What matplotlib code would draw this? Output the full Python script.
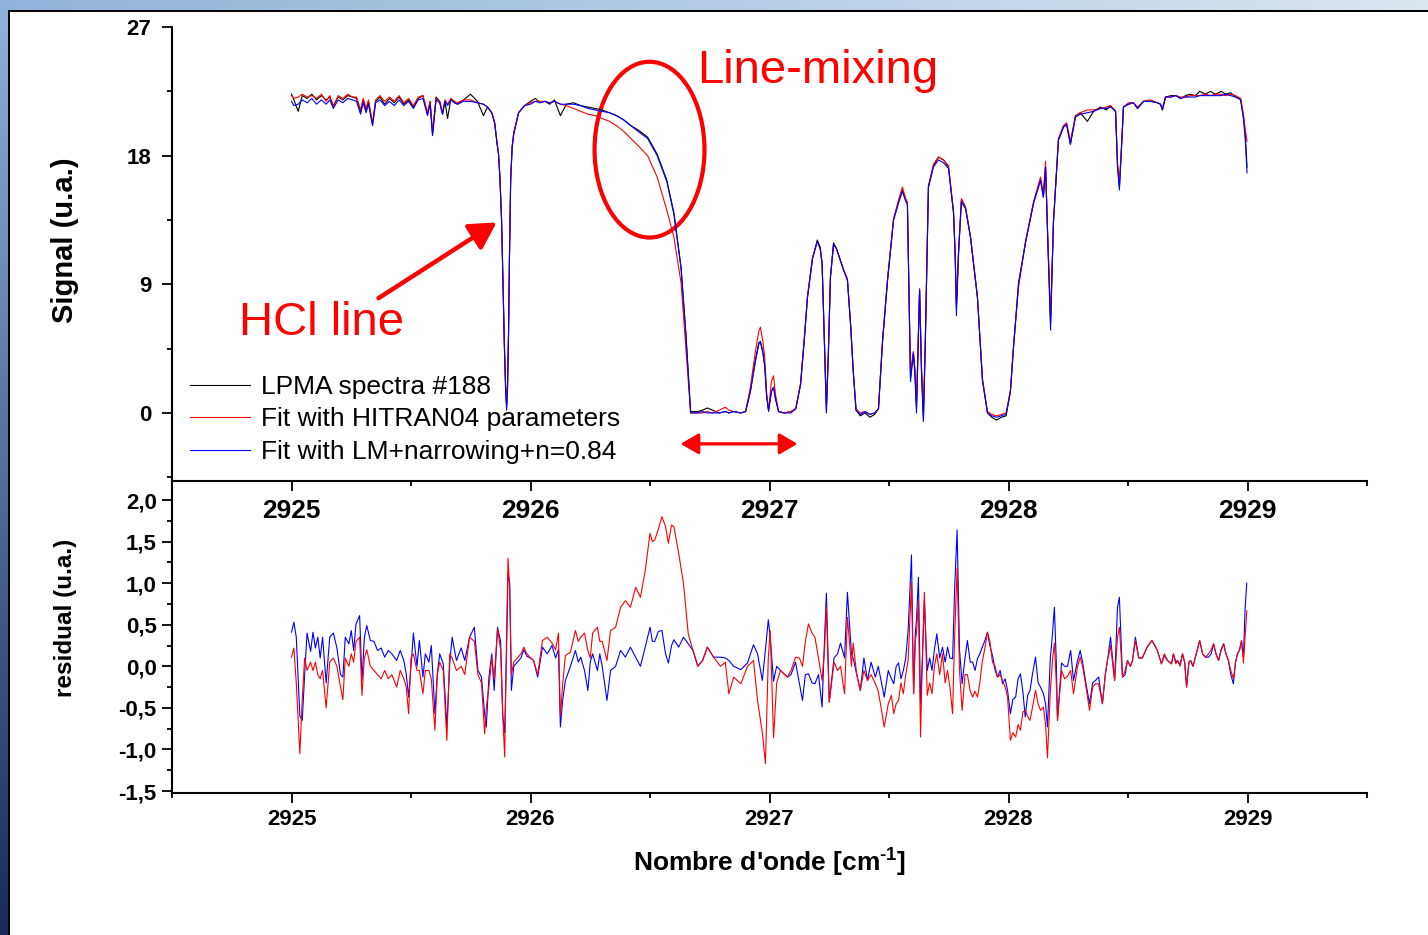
import numpy as np
import matplotlib
matplotlib.use('Agg')
import matplotlib.pyplot as plt
from matplotlib.patches import Ellipse
from matplotlib.ticker import MultipleLocator

plt.rcParams['font.family'] = ['Liberation Sans', 'DejaVu Sans']
plt.rcParams['mathtext.fontset'] = 'custom'
plt.rcParams['mathtext.bf'] = 'Liberation Sans:bold'
plt.rcParams['mathtext.rm'] = 'Liberation Sans:bold'
plt.rcParams['mathtext.default'] = 'bf'

# ---------------- top panel: spectra ----------------
sig_wn = [
    2925.000, 2925.010, 2925.028, 2925.045, 2925.065, 2925.085, 2925.105, 2925.125, 2925.145, 2925.160,
    2925.175, 2925.195, 2925.215, 2925.235, 2925.255, 2925.272, 2925.289, 2925.300, 2925.312, 2925.322,
    2925.339, 2925.352, 2925.370, 2925.390, 2925.410, 2925.430, 2925.450, 2925.470, 2925.490, 2925.510,
    2925.530, 2925.550, 2925.569, 2925.580, 2925.590, 2925.605, 2925.620, 2925.632, 2925.642, 2925.653,
    2925.667, 2925.682, 2925.695, 2925.720, 2925.749, 2925.778, 2925.803, 2925.820, 2925.838, 2925.850,
    2925.860, 2925.866, 2925.872, 2925.879, 2925.885, 2925.891, 2925.896, 2925.900, 2925.904, 2925.908,
    2925.912, 2925.917, 2925.923, 2925.930, 2925.950, 2925.975, 2926.000, 2926.020, 2926.040, 2926.060,
    2926.080, 2926.100, 2926.125, 2926.150, 2926.180, 2926.210, 2926.240, 2926.270, 2926.300, 2926.330,
    2926.360, 2926.390, 2926.420, 2926.450, 2926.490, 2926.530, 2926.570, 2926.600, 2926.630, 2926.650,
    2926.670, 2926.700, 2926.720, 2926.740, 2926.760, 2926.790, 2926.815, 2926.830, 2926.850, 2926.880,
    2926.900, 2926.920, 2926.940, 2926.955, 2926.962, 2926.972, 2926.980, 2926.988, 2926.996, 2927.008,
    2927.017, 2927.025, 2927.038, 2927.060, 2927.090, 2927.110, 2927.130, 2927.145, 2927.159, 2927.180,
    2927.200, 2927.212, 2927.220, 2927.228, 2927.238, 2927.246, 2927.255, 2927.268, 2927.280, 2927.300,
    2927.310, 2927.326, 2927.340, 2927.350, 2927.362, 2927.380, 2927.400, 2927.420, 2927.440, 2927.456,
    2927.473, 2927.494, 2927.519, 2927.540, 2927.556, 2927.570, 2927.577, 2927.584, 2927.590, 2927.602,
    2927.608, 2927.615, 2927.628, 2927.636, 2927.644, 2927.652, 2927.665, 2927.686, 2927.707, 2927.728,
    2927.749, 2927.770, 2927.777, 2927.782, 2927.791, 2927.803, 2927.812, 2927.820, 2927.841, 2927.870,
    2927.891, 2927.912, 2927.930, 2927.950, 2927.970, 2927.990, 2928.008, 2928.021, 2928.042, 2928.071,
    2928.105, 2928.134, 2928.146, 2928.155, 2928.163, 2928.176, 2928.188, 2928.209, 2928.230, 2928.243,
    2928.259, 2928.280, 2928.300, 2928.330, 2928.356, 2928.385, 2928.410, 2928.427, 2928.448, 2928.456,
    2928.464, 2928.473, 2928.481, 2928.502, 2928.523, 2928.540, 2928.565, 2928.594, 2928.623, 2928.636,
    2928.644, 2928.657, 2928.680, 2928.700, 2928.720, 2928.741, 2928.760, 2928.782, 2928.800, 2928.824,
    2928.845, 2928.866, 2928.890, 2928.908, 2928.930, 2928.950, 2928.971, 2928.983, 2928.991, 2928.998]

sig_lpma = [
    22.3, 21.9, 21.1, 22.2, 22.0, 22.3, 21.9, 22.2, 21.9, 22.1,
    21.5, 22.1, 21.9, 22.2, 22.1, 22.0, 21.1, 21.9, 21.2, 21.8,
    20.2, 21.8, 22.1, 21.6, 22.0, 21.7, 22.1, 21.6, 21.9, 21.4,
    22.0, 22.2, 20.9, 21.8, 19.5, 22.1, 21.8, 20.9, 21.8, 20.6,
    22.0, 21.7, 21.6, 21.9, 22.3, 21.8, 20.8, 21.4, 21.0, 20.3,
    18.9, 18.2, 16.5, 13.5, 9.0, 4.6, 1.8, 0.5, 2.0, 5.5,
    11.0, 16.3, 18.6, 19.6, 21.0, 21.5, 21.8, 22.0, 21.7, 21.8,
    21.6, 21.9, 20.8, 21.6, 21.7, 21.5, 21.4, 21.3, 21.2, 21.0,
    20.8, 20.5, 20.1, 19.8, 19.3, 18.1, 16.3, 14.0, 10.2, 5.6,
    0.1, 0.1, 0.2, 0.35, 0.2, 0.0, 0.1, 0.0, 0.1, 0.0,
    0.1, 1.5, 3.6, 4.9, 5.0, 4.3, 3.3, 1.2, 0.2, 1.5,
    1.8, 1.0, 0.1, 0.0, 0.1, 0.3, 2.0, 5.0, 8.1, 10.8,
    12.1, 11.6, 10.5, 6.0, 0.2, 4.0, 9.5, 11.9, 11.5, 10.5,
    10.0, 9.3, 6.0, 3.0, 0.2, -0.2, 0.0, -0.3, -0.1, 0.3,
    5.0, 9.3, 13.5, 14.8, 15.6, 14.9, 14.7, 8.0, 2.5, 4.2,
    3.0, 0.4, 8.6, 3.0, -0.4, 5.0, 15.8, 17.3, 17.9, 17.7,
    17.2, 14.0, 11.0, 7.4, 11.2, 14.9, 14.6, 14.4, 12.3, 8.1,
    2.3, 0.0, -0.3, -0.5, -0.3, -0.2, 1.5, 4.6, 9.1, 11.9,
    14.7, 16.3, 15.1, 17.2, 12.8, 6.3, 13.3, 19.1, 20.0, 20.2,
    18.8, 20.7, 21.0, 20.4, 21.1, 21.4, 21.2, 21.5, 21.1, 17.4,
    15.8, 18.6, 21.4, 21.6, 21.7, 21.3, 21.8, 21.8, 21.7, 21.6,
    21.2, 22.1, 22.2, 22.2, 22.0, 22.2, 22.3, 22.2, 22.5, 22.3,
    22.5, 22.3, 22.5, 22.3, 22.4, 22.1, 22.0, 20.7, 19.5, 17.2]

sig_hitran = [
    22.2, 22.0, 22.1, 22.3, 22.1, 22.2, 22.0, 22.3, 21.8, 22.2,
    21.4, 22.2, 22.0, 22.3, 22.1, 22.1, 21.2, 22.0, 21.3, 21.9,
    20.3, 21.9, 22.2, 21.8, 22.1, 21.8, 22.2, 21.7, 22.0, 21.5,
    22.1, 22.2, 21.0, 21.8, 19.6, 22.0, 21.8, 21.0, 21.9, 21.6,
    22.0, 21.8, 21.7, 21.9, 21.9, 21.7, 21.6, 21.4, 21.0, 20.3,
    18.9, 18.2, 16.5, 13.5, 9.0, 4.6, 1.8, 0.6, 2.1, 5.6,
    11.0, 16.3, 18.6, 19.6, 21.0, 21.5, 21.7, 21.8, 21.8, 21.8,
    21.7, 21.8, 21.6, 21.5, 21.3, 21.1, 20.9, 20.8, 20.6, 20.4,
    20.1, 19.7, 19.2, 18.7, 18.0, 16.5, 14.2, 12.3, 9.1, 4.6,
    0.0, 0.0, 0.0, 0.1, 0.0, 0.2, 0.4, 0.2, 0.1, 0.0,
    0.1, 1.8, 4.2, 5.7, 6.0, 5.0, 3.9, 1.4, 0.2, 2.2,
    2.6, 1.3, 0.1, 0.0, 0.1, 0.3, 2.1, 5.1, 8.2, 10.9,
    12.0, 11.5, 10.4, 6.0, 0.5, 4.0, 9.5, 11.8, 11.5, 10.5,
    10.0, 9.4, 6.1, 3.1, 0.3, 0.0, 0.1, -0.1, 0.0, 0.3,
    5.1, 9.4, 13.6, 14.9, 15.8, 15.0, 14.7, 8.0, 2.8, 4.3,
    3.2, 0.7, 8.7, 3.2, 0.0, 5.2, 15.9, 17.4, 17.9, 17.7,
    17.3, 14.1, 11.0, 7.6, 11.3, 15.0, 14.7, 14.4, 12.3, 8.1,
    2.4, 0.1, -0.1, -0.2, -0.1, 0.0, 1.6, 4.7, 8.8, 12.0,
    14.8, 16.5, 15.3, 17.6, 13.0, 6.6, 13.4, 19.2, 20.1, 20.3,
    19.0, 20.8, 21.0, 21.2, 21.2, 21.3, 21.4, 21.5, 21.1, 17.6,
    16.0, 18.7, 21.4, 21.7, 21.7, 21.4, 21.8, 21.9, 21.7, 21.6,
    21.3, 22.1, 22.1, 22.2, 22.1, 22.1, 22.2, 22.2, 22.2, 22.3,
    22.2, 22.3, 22.3, 22.2, 22.3, 22.2, 22.0, 20.9, 19.8, 19.0]

sig_lm = [
    21.8, 21.5, 21.6, 21.9, 21.7, 22.0, 21.6, 21.9, 21.6, 21.9,
    21.3, 21.9, 21.7, 22.0, 21.9, 21.8, 20.9, 21.7, 21.0, 21.6,
    20.1, 21.7, 21.9, 21.5, 21.8, 21.5, 21.9, 21.5, 21.8, 21.3,
    21.9, 22.0, 20.8, 21.6, 19.4, 21.9, 21.7, 20.9, 21.8, 21.5,
    21.9, 21.7, 21.6, 21.8, 21.8, 21.7, 21.6, 21.4, 21.0, 20.3,
    18.8, 18.1, 16.4, 13.4, 8.8, 4.4, 1.5, 0.2, 1.8, 5.3,
    10.8, 16.2, 18.5, 19.5, 21.0, 21.5, 21.6, 21.8, 21.7, 21.8,
    21.7, 21.8, 21.6, 21.6, 21.6, 21.5, 21.3, 21.2, 21.1, 21.0,
    20.8, 20.5, 20.1, 19.7, 19.2, 18.0, 16.2, 13.9, 10.1, 5.5,
    0.0, 0.0, 0.1, 0.0, 0.0, 0.0, 0.1, 0.0, 0.1, 0.0,
    0.1, 1.5, 3.5, 4.8, 5.0, 4.2, 3.3, 1.2, 0.1, 1.5,
    1.8, 1.0, 0.1, 0.0, 0.0, 0.3, 2.0, 5.0, 8.1, 10.8,
    12.0, 11.5, 10.5, 6.0, 0.0, 4.0, 9.5, 11.8, 11.5, 10.5,
    10.0, 9.3, 6.0, 3.0, 0.2, -0.1, 0.1, -0.1, 0.0, 0.3,
    5.0, 9.3, 13.5, 14.7, 15.5, 14.8, 14.6, 8.0, 2.2, 4.2,
    2.8, 0.0, 8.6, 2.8, -0.6, 5.0, 15.8, 17.2, 17.7, 17.5,
    17.1, 14.0, 11.0, 6.8, 11.2, 14.8, 14.5, 14.3, 12.3, 8.1,
    2.3, 0.0, -0.2, -0.3, -0.2, -0.1, 1.5, 4.6, 9.0, 11.9,
    14.7, 16.3, 15.1, 17.2, 12.8, 5.8, 13.3, 19.1, 20.0, 20.2,
    18.8, 20.7, 20.9, 21.0, 21.1, 21.3, 21.3, 21.4, 21.1, 17.2,
    15.6, 18.6, 21.4, 21.6, 21.7, 21.3, 21.8, 21.8, 21.7, 21.6,
    21.2, 22.1, 22.1, 22.2, 22.0, 22.1, 22.1, 22.1, 22.2, 22.2,
    22.2, 22.2, 22.2, 22.3, 22.2, 22.1, 21.9, 20.6, 19.0, 16.8]

# ---------------- bottom panel: residuals ----------------
res_wn = [
    2925.000, 2925.010, 2925.020, 2925.035, 2925.045, 2925.055, 2925.065, 2925.080, 2925.090, 2925.100,
    2925.110, 2925.120, 2925.130, 2925.145, 2925.160, 2925.175, 2925.190, 2925.205, 2925.215, 2925.225,
    2925.240, 2925.250, 2925.260, 2925.270, 2925.285, 2925.295, 2925.305, 2925.315, 2925.330, 2925.345,
    2925.360, 2925.375, 2925.390, 2925.405, 2925.420, 2925.440, 2925.455, 2925.470, 2925.480, 2925.490,
    2925.500, 2925.510, 2925.525, 2925.535, 2925.550, 2925.560, 2925.575, 2925.585, 2925.600, 2925.610,
    2925.620, 2925.635, 2925.650, 2925.662, 2925.672, 2925.690, 2925.710, 2925.725, 2925.745, 2925.765,
    2925.780, 2925.795, 2925.808, 2925.815, 2925.826, 2925.838, 2925.848, 2925.862, 2925.875, 2925.884,
    2925.892, 2925.900, 2925.906, 2925.913, 2925.920, 2925.930, 2925.945, 2925.960, 2925.972, 2925.985,
    2926.000, 2926.013, 2926.030, 2926.050, 2926.070, 2926.090, 2926.105, 2926.117, 2926.125, 2926.135,
    2926.146, 2926.167, 2926.188, 2926.200, 2926.210, 2926.226, 2926.240, 2926.250, 2926.260, 2926.280,
    2926.290, 2926.300, 2926.320, 2926.335, 2926.356, 2926.377, 2926.397, 2926.418, 2926.440, 2926.460,
    2926.480, 2926.500, 2926.510, 2926.520, 2926.535, 2926.550, 2926.565, 2926.577, 2926.590, 2926.600,
    2926.620, 2926.640, 2926.660, 2926.680, 2926.700, 2926.720, 2926.740, 2926.766, 2926.795, 2926.815,
    2926.830, 2926.850, 2926.880, 2926.908, 2926.933, 2926.950, 2926.970, 2926.983, 2926.995, 2927.003,
    2927.017, 2927.030, 2927.046, 2927.075, 2927.090, 2927.109, 2927.125, 2927.138, 2927.150, 2927.163,
    2927.178, 2927.190, 2927.205, 2927.220, 2927.230, 2927.238, 2927.250, 2927.270, 2927.285, 2927.297,
    2927.314, 2927.326, 2927.343, 2927.350, 2927.365, 2927.380, 2927.395, 2927.410, 2927.425, 2927.443,
    2927.455, 2927.464, 2927.480, 2927.497, 2927.510, 2927.520, 2927.530, 2927.540, 2927.550, 2927.560,
    2927.570, 2927.580, 2927.594, 2927.603, 2927.610, 2927.615, 2927.623, 2927.632, 2927.640, 2927.648,
    2927.660, 2927.670, 2927.680, 2927.690, 2927.700, 2927.712, 2927.724, 2927.735, 2927.745, 2927.755,
    2927.766, 2927.775, 2927.785, 2927.795, 2927.806, 2927.818, 2927.828, 2927.840, 2927.850, 2927.860,
    2927.870, 2927.880, 2927.890, 2927.900, 2927.912, 2927.922, 2927.933, 2927.944, 2927.954, 2927.965,
    2927.975, 2927.986, 2927.996, 2928.008, 2928.018, 2928.030, 2928.040, 2928.050, 2928.060, 2928.070,
    2928.080, 2928.090, 2928.100, 2928.113, 2928.124, 2928.134, 2928.146, 2928.155, 2928.163, 2928.175,
    2928.184, 2928.192, 2928.200, 2928.205, 2928.222, 2928.235, 2928.247, 2928.260, 2928.272, 2928.289,
    2928.300, 2928.310, 2928.322, 2928.339, 2928.352, 2928.364, 2928.377, 2928.393, 2928.405, 2928.414,
    2928.427, 2928.444, 2928.456, 2928.464, 2928.477, 2928.488, 2928.498, 2928.510, 2928.519, 2928.531,
    2928.545, 2928.560, 2928.580, 2928.600, 2928.612, 2928.623, 2928.640, 2928.652, 2928.665, 2928.682,
    2928.690, 2928.700, 2928.707, 2928.718, 2928.728, 2928.737, 2928.745, 2928.755, 2928.762, 2928.772,
    2928.782, 2928.800, 2928.812, 2928.824, 2928.837, 2928.848, 2928.858, 2928.868, 2928.879, 2928.890,
    2928.900, 2928.910, 2928.920, 2928.930, 2928.941, 2928.950, 2928.958, 2928.967, 2928.975, 2928.983,
    2928.990, 2928.997]

res_hitran = [
    0.11, 0.22, -0.20, -1.05, -0.40, 0.10, -0.05, 0.05, -0.05, 0.05,
    -0.10, -0.15, -0.05, -0.50, 0.05, 0.10, 0.00, -0.25, -0.40, 0.10,
    0.00, 0.15, 0.05, 0.30, 0.35, -0.35, 0.10, 0.20, 0.00, -0.05,
    -0.10, -0.15, -0.05, -0.15, -0.10, -0.25, -0.05, -0.15, -0.25, -0.57,
    0.10, 0.15, -0.05, -0.05, -0.33, -0.05, -0.05, -0.15, -0.77, -0.10,
    0.05, -0.05, -0.89, 0.15, 0.10, -0.05, 0.00, -0.10, 0.35, 0.30,
    -0.10, -0.20, -0.81, -0.50, -0.25, 0.10, -0.15, 0.45, 0.20, -0.60,
    -1.09, 0.40, 1.30, 0.92, -0.10, 0.05, 0.10, 0.15, 0.23, 0.15,
    0.10, 0.07, -0.10, 0.31, 0.35, 0.28, 0.20, 0.40, -0.60, -0.20,
    0.13, 0.17, 0.43, 0.30, 0.35, 0.40, 0.19, 0.10, 0.40, 0.47,
    0.30, 0.30, 0.07, 0.43, 0.47, 0.71, 0.79, 0.71, 0.95, 0.83,
    1.15, 1.60, 1.50, 1.52, 1.65, 1.80, 1.68, 1.48, 1.70, 1.68,
    1.36, 1.00, 0.39, 0.19, 0.00, 0.07, 0.23, 0.11, 0.00, 0.05,
    -0.33, -0.13, -0.21, 0.00, 0.07, -0.41, -0.80, -1.17, 0.10, 0.43,
    -0.86, -0.20, -0.05, -0.13, -0.05, 0.11, 0.10, 0.00, 0.30, 0.51,
    0.40, 0.35, 0.10, -0.17, 0.20, 0.71, -0.43, 0.05, -0.05, 0.00,
    -0.33, 0.59, 0.00, 0.28, -0.10, -0.29, -0.05, -0.17, -0.10, -0.21,
    -0.30, -0.45, -0.73, -0.45, -0.35, -0.57, -0.45, -0.41, -0.20, -0.33,
    -0.10, 0.07, 1.00, -0.33, 0.30, 0.40, 0.79, -0.85, 0.15, 0.89,
    -0.35, -0.20, -0.33, 0.00, 0.15, -0.10, 0.15, -0.20, -0.05, -0.25,
    -0.57, 0.40, 1.18, -0.05, -0.53, -0.10, -0.10, -0.30, -0.37, -0.30,
    -0.37, -0.20, 0.05, 0.20, 0.41, 0.30, 0.05, 0.00, -0.13, -0.10,
    -0.17, -0.25, -0.37, -0.89, -0.80, -0.85, -0.70, -0.77, -0.55, -0.53,
    -0.60, -0.65, -0.50, -0.29, -0.45, -0.53, -0.49, -0.70, -1.10, -0.30,
    0.07, 0.28, -0.20, -0.65, -0.05, -0.15, -0.12, -0.05, -0.33, 0.00,
    0.11, 0.00, -0.21, -0.53, -0.25, -0.21, -0.21, -0.45, -0.10, 0.07,
    0.25, -0.17, 0.35, 0.47, -0.13, -0.05, 0.07, 0.00, 0.07, 0.31,
    0.10, 0.10, 0.23, 0.31, 0.25, 0.19, 0.03, 0.15, 0.07, 0.03,
    0.15, 0.03, 0.07, 0.00, 0.15, 0.05, -0.25, 0.05, 0.07, 0.00,
    0.11, 0.31, 0.15, 0.11, 0.15, 0.20, 0.27, 0.15, 0.07, 0.20,
    0.27, 0.15, 0.07, -0.05, -0.15, 0.05, 0.15, 0.20, 0.31, 0.04,
    0.35, 0.67]

res_lm = [
    0.41, 0.53, 0.35, -0.60, -0.65, -0.10, 0.40, 0.18, 0.41, 0.22,
    0.35, 0.10, 0.35, -0.20, 0.35, 0.40, 0.22, -0.10, -0.13, 0.35,
    0.27, 0.43, 0.19, 0.51, 0.61, -0.17, 0.35, 0.49, 0.31, 0.30,
    0.19, 0.22, 0.11, 0.19, 0.15, 0.07, 0.19, 0.07, -0.09, -0.37,
    0.00, 0.40, 0.00, 0.31, -0.13, 0.15, 0.05, 0.25, -0.57, -0.10,
    0.15, 0.03, -0.73, 0.03, 0.35, 0.07, 0.22, 0.07, 0.35, 0.47,
    -0.05, -0.13, -0.57, -0.73, -0.13, 0.15, -0.29, 0.47, 0.30, -0.60,
    -0.80, 0.20, 1.12, 1.00, -0.29, 0.00, 0.05, 0.10, 0.20, 0.12,
    0.10, 0.07, -0.13, 0.23, 0.15, 0.25, 0.10, 0.20, -0.73, -0.40,
    -0.17, 0.00, 0.19, 0.05, 0.11, -0.05, -0.29, 0.05, 0.15, -0.05,
    0.15, 0.00, -0.41, -0.05, 0.00, 0.19, 0.11, 0.23, 0.11, 0.00,
    0.23, 0.47, 0.30, 0.30, 0.42, 0.43, 0.15, 0.04, 0.25, 0.32,
    0.23, 0.35, 0.27, 0.19, 0.00, 0.07, 0.23, 0.11, 0.11, 0.10,
    0.07, 0.00, -0.04, 0.04, 0.26, 0.15, -0.17, 0.20, 0.56, 0.35,
    -0.18, 0.00, -0.05, -0.13, -0.10, 0.05, -0.20, -0.41, -0.10, -0.09,
    -0.20, -0.21, -0.10, -0.49, 0.30, 0.88, -0.43, 0.10, 0.15, 0.28,
    0.10, 0.89, 0.15, 0.10, -0.10, -0.29, 0.10, -0.17, 0.05, -0.13,
    0.00, -0.13, -0.37, -0.05, -0.15, -0.21, 0.00, 0.04, -0.15, -0.05,
    0.10, 0.43, 1.34, -0.33, 0.40, 0.55, 1.07, -0.45, 0.10, 0.80,
    -0.05, 0.10, -0.05, 0.20, 0.39, 0.10, 0.23, 0.05, 0.23, 0.10,
    0.09, 0.96, 1.64, 0.20, -0.21, 0.10, 0.31, 0.05, 0.05, -0.05,
    0.09, 0.15, 0.23, 0.30, 0.41, 0.25, 0.13, -0.05, -0.13, -0.05,
    -0.21, -0.15, -0.29, -0.57, -0.40, -0.37, -0.15, -0.09, -0.30, -0.61,
    -0.35, -0.29, -0.10, 0.11, -0.20, -0.25, -0.33, -0.45, -0.73, 0.10,
    0.39, 0.71, 0.05, -0.65, 0.04, 0.00, 0.00, 0.19, -0.17, 0.07,
    0.19, 0.05, -0.17, -0.45, -0.20, -0.17, -0.13, -0.45, -0.10, 0.07,
    0.35, -0.17, 0.71, 0.83, -0.13, -0.10, 0.07, 0.00, 0.07, 0.35,
    0.10, 0.10, 0.23, 0.31, 0.25, 0.19, 0.03, 0.13, 0.07, 0.03,
    0.15, 0.05, 0.07, 0.02, 0.15, 0.05, -0.25, 0.05, 0.07, 0.00,
    0.11, 0.31, 0.15, 0.11, 0.11, 0.15, 0.27, 0.15, 0.07, 0.20,
    0.27, 0.15, 0.07, -0.10, -0.21, 0.05, 0.15, 0.20, 0.31, 0.11,
    0.70, 1.00]

legend_labels = ['LPMA spectra #188', 'Fit with HITRAN04 parameters',
                 'Fit with LM+narrowing+n=0.84']
top_xticks = [2925, 2926, 2927, 2928, 2929]
top_yticks = [0, 9, 18, 27]
res_yticks = [-1.5, -1.0, -0.5, 0.0, 0.5, 1.0, 1.5, 2.0]

assert len(sig_wn) == len(sig_lpma) == len(sig_hitran) == len(sig_lm)
assert len(res_wn) == len(res_hitran) == len(res_lm)

# ---------------- figure ----------------
W, H = 1428, 935
fig = plt.figure(figsize=(W / 100, H / 100), dpi=100)

# slide-like background
bg = fig.add_axes([0, 0, 1, 1], zorder=-10)
img = np.ones((H, W, 3))
tcol = np.array([0.56, 0.70, 0.85])
bcol = np.array([0.10, 0.17, 0.34])
t = np.linspace(0, 1, H)[:, None, None]
img[:, :8, :] = tcol * (1 - t) + bcol * t
s = np.linspace(0, 1, W)[None, :, None]
img[:10, :, :] = tcol * (1 - s) + np.array([0.86, 0.90, 0.94]) * s
img[10:12, 8:, :] = 0.0
img[10:, 8:10, :] = 0.0
bg.imshow(img, extent=(0, W, H, 0), aspect='auto', interpolation='nearest')
bg.set_xlim(0, W)
bg.set_ylim(H, 0)
bg.axis('off')

ax1 = fig.add_axes([172 / W, 1 - 481 / H, 1195 / W, 454 / H])
ax2 = fig.add_axes([172 / W, 1 - 792.5 / H, 1195 / W, 311.5 / H])
for ax in (ax1, ax2):
    ax.set_facecolor('none')
    ax.spines['top'].set_visible(False)
    ax.spines['right'].set_visible(False)
    ax.spines['left'].set_linewidth(1.5)
    ax.spines['bottom'].set_linewidth(1.5)
    ax.set_xlim(2924.5, 2929.5)
    ax.xaxis.set_minor_locator(MultipleLocator(0.5))
    ax.tick_params(which='major', direction='out', length=7.5, width=1.3)
    ax.tick_params(which='minor', direction='out', length=3.8, width=1.3)

# top panel
l1, = ax1.plot(sig_wn, sig_lpma, color='black', lw=0.8)
l2, = ax1.plot(sig_wn, sig_hitran, color='red', lw=0.8)
l3, = ax1.plot(sig_wn, sig_lm, color='blue', lw=0.8)
ax1.set_ylim(-4.76, 27)
ax1.set_xticks(top_xticks, labels=[str(v) for v in top_xticks],
               fontsize=19, fontweight='bold')
ax1.set_yticks(top_yticks, labels=[str(v) for v in top_yticks],
               fontsize=16, fontweight='bold')
ax1.yaxis.set_minor_locator(MultipleLocator(4.5))
ax1.tick_params(axis='x', which='major', pad=5.5)
ax1.tick_params(axis='y', which='major', pad=7.5)
ax1.set_ylabel('Signal (u.a.)', fontsize=21, fontweight='bold')
ax1.yaxis.set_label_coords(-0.0895, 0.531)
ax1.yaxis.label.set_va('center')

leg = ax1.legend([l1, l2, l3], legend_labels, loc='upper left',
                 bbox_to_anchor=(0.0151, 0.2334), frameon=False, fontsize=19,
                 handlelength=2.27, handletextpad=0.42, labelspacing=0.32,
                 borderpad=0, borderaxespad=0)

# annotations
ax1.text(2925.126, 6.28, 'HCl line', color='red', fontsize=34,
         ha='center', va='center')
ax1.text(2927.20, 23.94, 'Line-mixing', color='red', fontsize=34,
         ha='center', va='center')
ax1.annotate('', xy=(2925.858, 13.33), xytext=(2925.364, 8.03),
             arrowprops=dict(arrowstyle='-|>,head_length=0.8,head_width=0.45',
                             color='red', lw=3.2, mutation_scale=20,
                             shrinkA=0, shrinkB=0))
ax1.add_patch(Ellipse((2926.498, 18.42), width=0.46, height=12.3,
                      fill=False, ec='red', lw=3))
ax1.annotate('', xy=(2927.117, -2.16), xytext=(2926.628, -2.16),
             arrowprops=dict(arrowstyle='<|-|>,head_length=0.6,head_width=0.35',
                             color='red', lw=2.3, mutation_scale=18,
                             shrinkA=0, shrinkB=0))

# bottom panel
ax2.plot(res_wn, res_lm, color='blue', lw=0.8)
ax2.plot(res_wn, res_hitran, color='red', lw=0.8)
ax2.set_ylim(-1.518, 2.229)
ax2.set_xticks(top_xticks, labels=[str(v) for v in top_xticks],
               fontsize=16, fontweight='bold')
ax2.set_yticks(res_yticks, labels=[f'{v:.1f}'.replace('.', ',') for v in res_yticks],
               fontsize=16, fontweight='bold')
ax2.yaxis.set_minor_locator(MultipleLocator(0.25))
ax2.tick_params(axis='x', which='major', pad=4.5)
ax2.tick_params(axis='y', which='major', pad=3.5)
ax2.set_ylabel('residual (u.a.)', fontsize=17.5, fontweight='bold')
ax2.yaxis.set_label_coords(-0.0895, 0.560)
ax2.yaxis.label.set_va('center')
ax2.set_xlabel(r"Nombre d'onde [cm$^{\text{-1}}$]", fontsize=19, fontweight='bold')
ax2.xaxis.set_label_coords(0.5004, -0.2263)
ax2.xaxis.label.set_va('center')

fig.savefig('out.png', dpi=100)
